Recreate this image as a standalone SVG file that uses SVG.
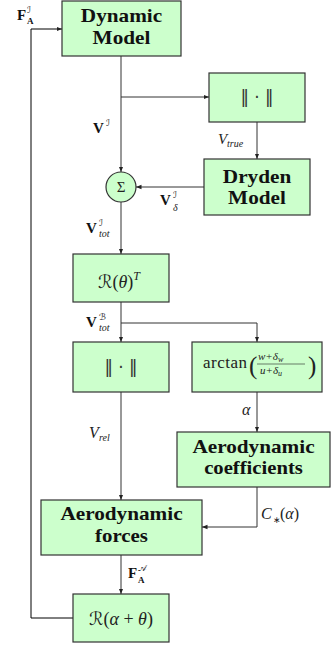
<svg xmlns="http://www.w3.org/2000/svg" width="333" height="646" viewBox="0 0 333 646">
<style>
.box{fill:#ccffcc;stroke:#333;stroke-width:1.2}
.bt{font-family:"Liberation Serif",serif;font-weight:bold;font-size:18px;fill:#111;text-anchor:middle}
.m{font-family:"Liberation Serif",serif;fill:#222}
.mi{font-family:"Liberation Serif",serif;font-style:italic;fill:#222}
.mb{font-family:"Liberation Serif",serif;font-weight:bold;fill:#111}
.sc{font-family:"DejaVu Sans","Noto Sans",serif;fill:#222}
.nb{font-family:"DejaVu Sans","Noto Sans",sans-serif;fill:#333;text-anchor:middle}
.ln{fill:none;stroke:#333;stroke-width:1}
</style>
<defs>
<marker id="ah" markerWidth="6" markerHeight="6" refX="5.5" refY="3" orient="auto" markerUnits="userSpaceOnUse">
<path d="M0,0.8 L5.5,3 L0,5.2 Z" fill="#222"/>
</marker>
</defs>

<g id="connectors">
<path class="ln" d="M121,56 V172" marker-end="url(#ah)"/>
<path class="ln" d="M121,97 H209" marker-end="url(#ah)"/>
<path class="ln" d="M257,122 V159" marker-end="url(#ah)"/>
<path class="ln" d="M204,187 H136" marker-end="url(#ah)"/>
<path class="ln" d="M121,202 V254" marker-end="url(#ah)"/>
<path class="ln" d="M121,302 V342" marker-end="url(#ah)"/>
<path class="ln" d="M121,323 H257 V342" marker-end="url(#ah)"/>
<path class="ln" d="M121,392 V500" marker-end="url(#ah)"/>
<path class="ln" d="M257,392 V432" marker-end="url(#ah)"/>
<path class="ln" d="M257,487 V527 H202" marker-end="url(#ah)"/>
<path class="ln" d="M121,555 V594" marker-end="url(#ah)"/>
<path class="ln" style="stroke:#000" d="M73,618 H31 V29 H62" marker-end="url(#ah)"/>
</g>

<g id="labels">
<text class="mb" x="17" y="20" font-size="15">F</text>
<text class="sc" x="27" y="13" font-size="9">ℐ</text>
<text class="mb" x="27" y="24" font-size="9">A</text>

<text class="mb" x="93" y="133" font-size="15">V</text>
<text class="sc" x="106" y="126" font-size="9">ℐ</text>

<text class="mi" x="218" y="144" font-size="15">V</text>
<text class="mi" x="227" y="147" font-size="10">true</text>

<text class="mb" x="160" y="205" font-size="15">V</text>
<text class="sc" x="173" y="198" font-size="9">ℐ</text>
<text class="mi" x="173" y="211" font-size="10">δ</text>

<text class="mb" x="86" y="233" font-size="15">V</text>
<text class="sc" x="99" y="226" font-size="9">ℐ</text>
<text class="mi" x="99" y="237" font-size="10">tot</text>

<text class="mb" x="86" y="327" font-size="15">V</text>
<text class="sc" x="99" y="320" font-size="9">ℬ</text>
<text class="mi" x="99" y="331" font-size="10">tot</text>

<text class="mi" x="242" y="415" font-size="16">α</text>

<text class="mi" x="89" y="438" font-size="16">V</text>
<text class="mi" x="99" y="441" font-size="10">rel</text>

<text class="mi" x="261" y="519" font-size="16">C</text>
<text class="m" x="273" y="523" font-size="9">∗</text>
<text class="m" x="280" y="519" font-size="16">(<tspan class="mi">α</tspan>)</text>

<text class="mb" x="128" y="578" font-size="15">F</text>
<text class="sc" x="138" y="571" font-size="9">𝒜</text>
<text class="mb" x="138" y="583" font-size="9">A</text>
</g>

<g id="dynamic-model">
<rect class="box" x="62" y="1" width="119" height="55"/>
<text class="bt" transform="translate(121.5 22) scale(1.18 1)">Dynamic</text>
<text class="bt" transform="translate(121.5 44) scale(1.18 1)">Model</text>
</g>

<g id="norm-true">
<rect class="box" x="209" y="73" width="96" height="49"/>
<text class="nb" x="257" y="103" font-size="17">‖ · ‖</text>
</g>

<g id="dryden-model">
<rect class="box" x="204" y="159" width="106" height="56"/>
<text class="bt" transform="translate(257 183) scale(1.18 1)">Dryden</text>
<text class="bt" transform="translate(257 204) scale(1.18 1)">Model</text>
</g>

<g id="sum">
<circle class="box" cx="121" cy="187" r="15"/>
<text class="m" x="121" y="192" font-size="15" text-anchor="middle">Σ</text>
</g>

<g id="rot-theta">
<rect class="box" x="73" y="254" width="96" height="48"/>
<text class="m" x="98" y="288" font-size="18"><tspan class="sc">ℛ</tspan>(<tspan class="mi">θ</tspan>)<tspan class="mi" font-size="12" dy="-8">T</tspan></text>
</g>

<g id="norm-rel">
<rect class="box" x="73" y="342" width="96" height="50"/>
<text class="nb" x="121" y="373" font-size="17">‖ · ‖</text>
</g>

<g id="arctan">
<rect class="box" x="192" y="342" width="130" height="50"/>
<text class="m" x="203" y="368" font-size="17" textLength="44" lengthAdjust="spacing">arctan</text>
<text class="m" x="249" y="374" font-size="25">(</text>
<text class="mi" x="258" y="360" font-size="11">w<tspan class="m">+</tspan>δ<tspan font-size="8" dy="2">w</tspan></text>
<line x1="257" y1="364" x2="305" y2="364" stroke="#222" stroke-width="0.6"/>
<text class="mi" x="260" y="374" font-size="11">u<tspan class="m">+</tspan>δ<tspan font-size="8" dy="2">u</tspan></text>
<text class="m" x="308" y="374" font-size="25">)</text>
</g>

<g id="aero-coefficients">
<rect class="box" x="177" y="432" width="153" height="55"/>
<text class="bt" transform="translate(253.5 453) scale(1.18 1)">Aerodynamic</text>
<text class="bt" transform="translate(253.5 474) scale(1.15 1)">coefficients</text>
</g>

<g id="aero-forces">
<rect class="box" x="41" y="500" width="161" height="55"/>
<text class="bt" transform="translate(121.5 520) scale(1.18 1)">Aerodynamic</text>
<text class="bt" transform="translate(121.5 542) scale(1.16 1)">forces</text>
</g>

<g id="rot-alpha-theta">
<rect class="box" x="73" y="594" width="96" height="48"/>
<text class="m" x="121" y="625" font-size="18" text-anchor="middle"><tspan class="sc">ℛ</tspan>(<tspan class="mi">α</tspan> + <tspan class="mi">θ</tspan>)</text>
</g>
</svg>
